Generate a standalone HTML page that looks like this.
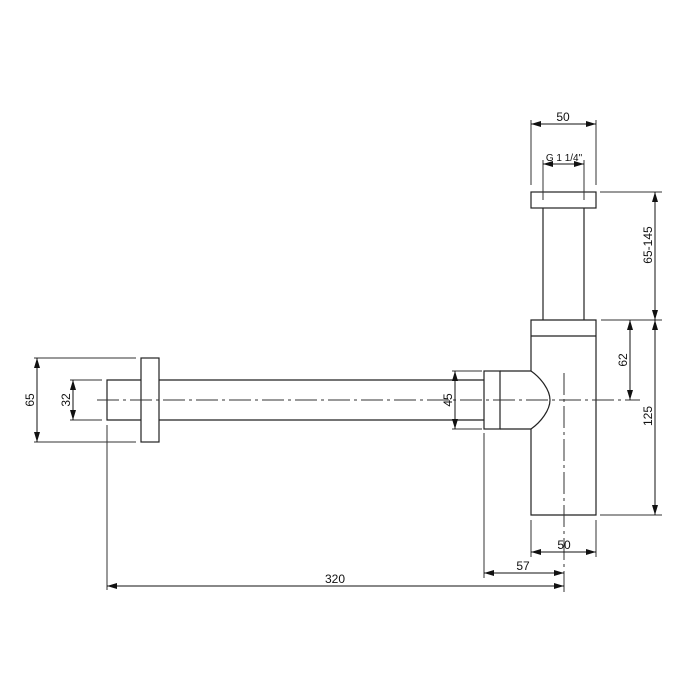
<!DOCTYPE html>
<html><head><meta charset="utf-8"><style>
html,body{margin:0;padding:0;background:#fff}
svg{display:block}
text{font-family:"Liberation Sans",sans-serif;font-size:12px;fill:#111}
</style></head><body>
<svg width="700" height="700" viewBox="0 0 700 700" xmlns="http://www.w3.org/2000/svg">
<defs>
<marker id="a" viewBox="0 0 10 6" refX="10" refY="3" markerWidth="10" markerHeight="6" orient="auto-start-reverse" markerUnits="userSpaceOnUse"><path d="M0,0L10,3L0,6z" fill="#111"/></marker>
</defs>
<g stroke="#222" stroke-width="1.2" fill="none">
<rect x="531" y="192" width="65" height="16"/>
<line x1="543" y1="208" x2="543" y2="320"/>
<line x1="584" y1="208" x2="584" y2="320"/>
<path d="M531,371 L531,320 L596,320 L596,515 L531,515 L531,429"/>
<line x1="531" y1="336" x2="596" y2="336"/>
<path d="M531,371 C541,378 550,390 550,400 C550,410 541,422 531,429"/>
<rect x="484" y="371" width="16" height="58"/>
<line x1="500" y1="371" x2="531" y2="371"/>
<line x1="500" y1="429" x2="531" y2="429"/>
<line x1="159" y1="380" x2="484" y2="380"/>
<line x1="159" y1="420" x2="484" y2="420"/>
<rect x="141" y="358" width="18" height="84"/>
<path d="M141,380 L107,380 L107,420 L141,420"/>
</g>
<g stroke="#333" stroke-width="1" fill="none" stroke-dasharray="22,4,3,4">
<line x1="97" y1="400" x2="640" y2="400"/>
<line x1="564" y1="373" x2="564" y2="592"/>
</g>
<g stroke="#333" stroke-width="1" fill="none">
<line x1="531" y1="120" x2="531" y2="185"/>
<line x1="596" y1="120" x2="596" y2="185"/>
<line x1="543" y1="160" x2="543" y2="200"/>
<line x1="584" y1="160" x2="584" y2="200"/>
<line x1="600" y1="192" x2="662" y2="192"/>
<line x1="601" y1="320" x2="662" y2="320"/>
<line x1="600" y1="515" x2="662" y2="515"/>
<line x1="531" y1="520" x2="531" y2="557"/>
<line x1="596" y1="520" x2="596" y2="557"/>
<line x1="484" y1="433" x2="484" y2="578"/>
<line x1="107" y1="425" x2="107" y2="590"/>
<line x1="452" y1="371" x2="482" y2="371"/>
<line x1="452" y1="429" x2="482" y2="429"/>
<line x1="34" y1="358" x2="136" y2="358"/>
<line x1="34" y1="442" x2="136" y2="442"/>
<line x1="70" y1="380" x2="102" y2="380"/>
<line x1="70" y1="420" x2="102" y2="420"/>
</g>
<g stroke="#111" stroke-width="1" fill="none" marker-start="url(#a)" marker-end="url(#a)">
<line x1="531" y1="124" x2="596" y2="124"/>
<line x1="543" y1="164" x2="584" y2="164"/>
<line x1="655" y1="192" x2="655" y2="320"/>
<line x1="655" y1="320" x2="655" y2="515"/>
<line x1="630" y1="320" x2="630" y2="400"/>
<line x1="531" y1="552" x2="596" y2="552"/>
<line x1="484" y1="573" x2="564" y2="573"/>
<line x1="107" y1="586" x2="564" y2="586"/>
<line x1="455" y1="371" x2="455" y2="429"/>
<line x1="37" y1="358" x2="37" y2="442"/>
<line x1="73" y1="380" x2="73" y2="420"/>
</g>
<text x="563" y="121" text-anchor="middle">50</text>
<text x="564" y="161" text-anchor="middle" style="font-size:10px">G 1 1/4"</text>
<text x="564" y="549" text-anchor="middle">50</text>
<text x="523" y="570" text-anchor="middle">57</text>
<text x="335" y="583" text-anchor="middle">320</text>
<text transform="translate(652,245) rotate(-90)" text-anchor="middle">65-145</text>
<text transform="translate(652,416) rotate(-90)" text-anchor="middle">125</text>
<text transform="translate(627,360) rotate(-90)" text-anchor="middle">62</text>
<text transform="translate(452,400) rotate(-90)" text-anchor="middle">45</text>
<text transform="translate(34,400) rotate(-90)" text-anchor="middle">65</text>
<text transform="translate(70,400) rotate(-90)" text-anchor="middle">32</text>
</svg>
</body></html>
